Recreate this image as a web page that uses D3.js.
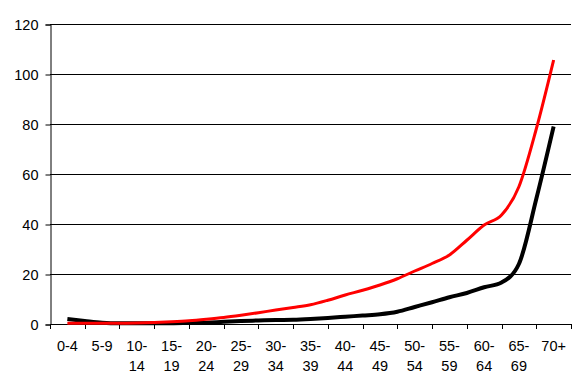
<!DOCTYPE html>
<html>
<head>
<meta charset="utf-8">
<script src="https://cdn.jsdelivr.net/npm/d3@7"></script>
<style>
  body { margin: 0; background: #fff; }
  svg text { font-family: "Liberation Sans", Arial, sans-serif; font-size: 14.5px; fill: #000; }
</style>
</head>
<body>
<svg id="chart"></svg>
<script>
// age groups on the x axis, label split into two rows
var ageGroups = ["0-4","5-9","10-14","15-19","20-24","25-29","30-34","35-39","40-44","45-49","50-54","55-59","60-64","65-69","70+"];
var labelTop = ["0-4","5-9","10-","15-","20-","25-","30-","35-","40-","45-","50-","55-","60-","65-","70+"];
var labelBottom = ["","","14","19","24","29","34","39","44","49","54","59","64","69",""];
var yTicks = [0,20,40,60,80,100,120];

// sample positions in age-group units (centre of group = whole number)
var samplePos = [0,0.5,1,1.5,2,2.5,3,3.5,4,4.5,5,5.5,6,6.5,7,7.5,8,8.5,9,9.5,10,10.5,11,11.5,12,12.5,13,13.5,14];
var redValues = [0.3,0.3,0.3,0.3,0.4,0.6,0.9,1.3,1.9,2.6,3.5,4.5,5.6,6.6,7.7,9.5,11.6,13.5,15.6,18.1,21.2,24.2,27.6,33.5,39.6,43.6,54.9,78,105.6];
var blackValues = [2.0,1.2,0.5,0.3,0.3,0.3,0.3,0.4,0.5,0.9,1.2,1.4,1.6,1.7,2.0,2.4,2.9,3.4,3.9,4.9,6.8,8.7,10.7,12.4,14.7,16.6,24,50,79];

var width = 580, height = 387;
var plotLeft = 50, plotRight = 571, plotTop = 24, plotBottom = 324;

var svg = d3.select("#chart").attr("width", width).attr("height", height);

var xBand = d3.scaleBand().domain(ageGroups).range([plotLeft, plotRight]).padding(0);
var xPos = d3.scaleLinear().domain([-0.5, ageGroups.length - 0.5]).range([plotLeft, plotRight]);
var y = d3.scaleLinear().domain([0, 120]).range([plotBottom, plotTop]);

// horizontal gridlines
svg.append("g").selectAll("line").data(yTicks.slice(1)).enter().append("line")
  .attr("x1", plotLeft).attr("x2", plotRight)
  .attr("y1", function(d){ return Math.round(y(d)) + 0.5; })
  .attr("y2", function(d){ return Math.round(y(d)) + 0.5; })
  .attr("stroke", "#000").attr("stroke-width", 1);

// y axis
var yAxis = svg.append("g").attr("transform", "translate(" + (plotLeft + 0.5) + ",0.5)")
  .call(d3.axisLeft(y).tickValues(yTicks).tickSize(5).tickPadding(7));
yAxis.attr("font-size", null).attr("font-family", null);
yAxis.select(".domain").attr("stroke", "#000");
yAxis.selectAll(".tick line").attr("stroke", "#000");
yAxis.selectAll("text").attr("dy", "0.36em");

// x axis line and boundary ticks
svg.append("line")
  .attr("x1", plotLeft).attr("x2", plotRight + 1)
  .attr("y1", plotBottom + 0.5).attr("y2", plotBottom + 0.5)
  .attr("stroke", "#000");
var bounds = ageGroups.map(function(d){ return xBand(d); }).concat([plotRight]);
svg.append("g").selectAll("line").data(bounds).enter().append("line")
  .attr("x1", function(d){ return Math.round(d) + 0.5; })
  .attr("x2", function(d){ return Math.round(d) + 0.5; })
  .attr("y1", plotBottom).attr("y2", plotBottom + 5)
  .attr("stroke", "#000");

var xl = svg.append("g");
ageGroups.forEach(function(g, i){
  var cx = xBand(g) + xBand.bandwidth() / 2;
  xl.append("text").attr("x", cx).attr("y", 351).attr("text-anchor", "middle").text(labelTop[i]);
  if (labelBottom[i])
    xl.append("text").attr("x", cx).attr("y", 371).attr("text-anchor", "middle").text(labelBottom[i]);
});

var line = d3.line()
  .x(function(d){ return xPos(d[0]); })
  .y(function(d){ return y(d[1]); })
  .curve(d3.curveMonotoneX);

svg.append("path")
  .datum(d3.zip(samplePos, blackValues))
  .attr("d", line).attr("fill", "none")
  .attr("stroke", "#000").attr("stroke-width", 4).attr("stroke-linejoin", "round");

svg.append("path")
  .datum(d3.zip(samplePos, redValues))
  .attr("d", line).attr("fill", "none")
  .attr("stroke", "#ff0000").attr("stroke-width", 3).attr("stroke-linejoin", "round");
</script>
</body>
</html>
